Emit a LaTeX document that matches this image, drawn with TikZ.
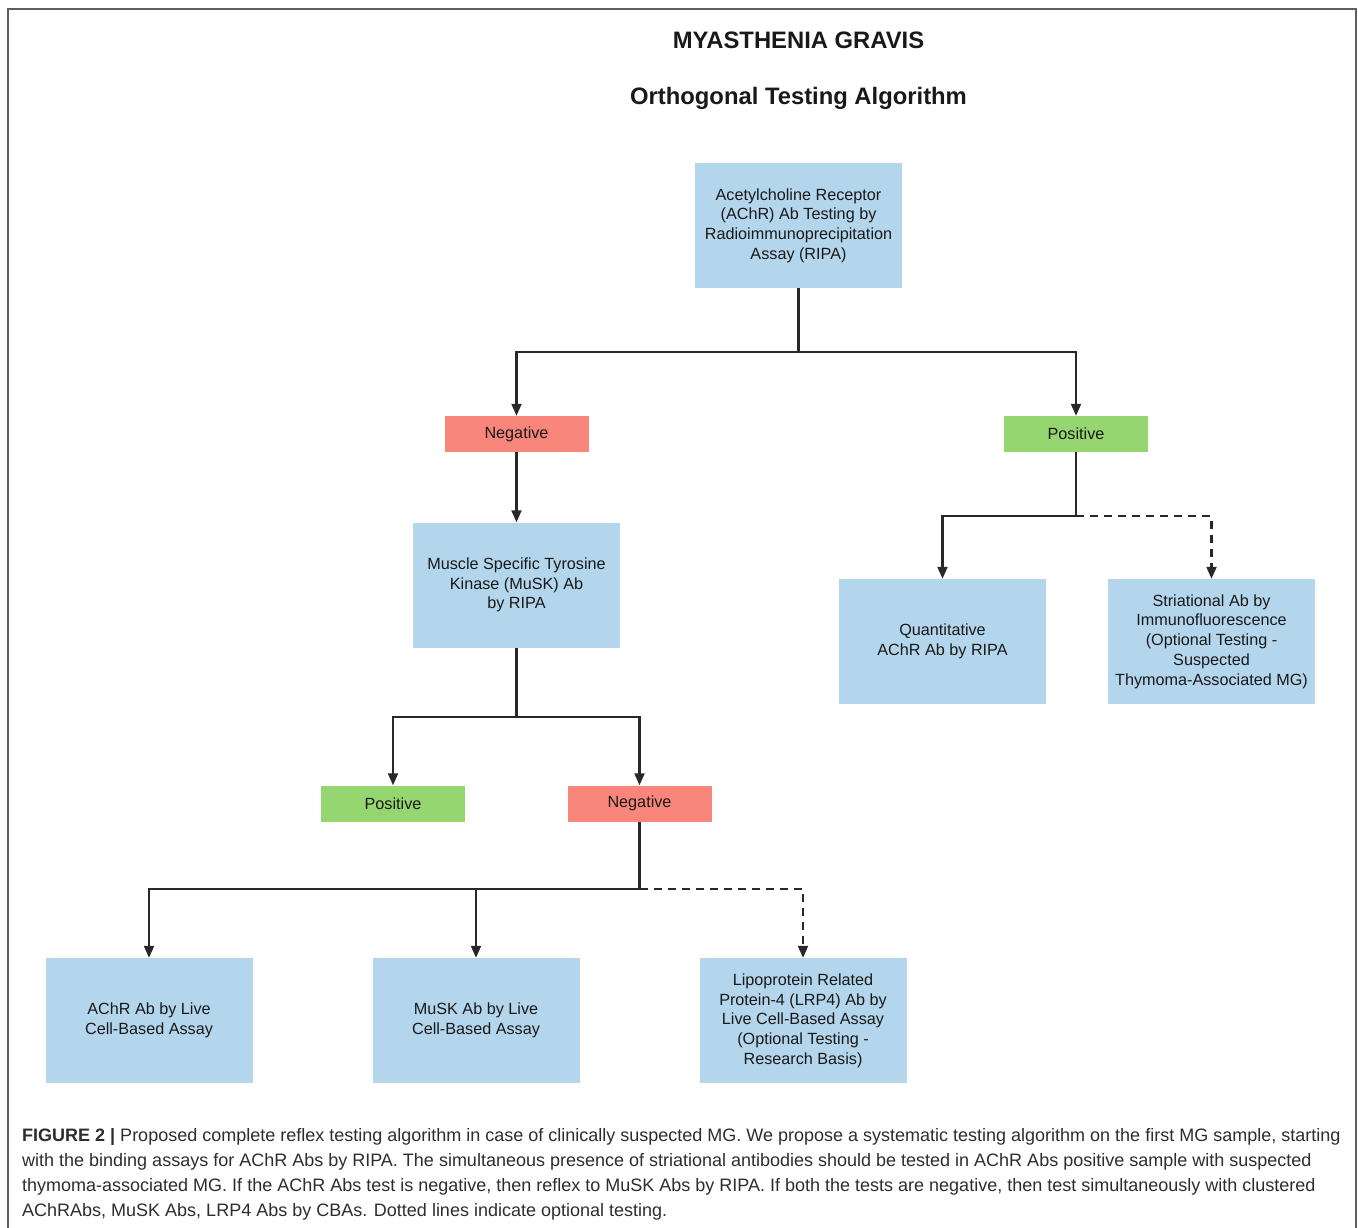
\documentclass[tikz,border=0pt]{standalone}
\usepackage{fontspec}
\setmainfont{Liberation Sans}
\usetikzlibrary{arrows.meta}
\definecolor{boxblue}{RGB}{180,214,237}
\definecolor{negred}{RGB}{249,134,122}
\definecolor{posgreen}{RGB}{150,214,112}
\definecolor{linegray}{RGB}{40,40,40}
\definecolor{textdark}{RGB}{25,25,25}
\definecolor{capgray}{RGB}{45,45,45}
\definecolor{framegray}{RGB}{95,95,95}
\begin{document}
\begin{tikzpicture}[x=1pt,y=-1pt,
 bluebox/.style={fill=boxblue, minimum width=207pt, minimum height=125pt, inner sep=2pt, align=center, font=\fontsize{16.2}{19.7}\selectfont, text=textdark},
 tagbox/.style={minimum width=144pt, minimum height=36pt, inner sep=0pt, font=\fontsize{16.2}{19}\selectfont, text=textdark},
 negbox/.style={tagbox, fill=negred},
 posbox/.style={tagbox, fill=posgreen},
 conn/.style={draw=linegray, line width=2.1pt},
 arr/.style={conn, -{Triangle[length=12pt,width=10pt]}},
 opt/.style={arr, dash pattern=on 8pt off 6pt},
 frameline/.style={draw=framegray, line width=2pt},
 capline/.style={anchor=base west, inner sep=0pt, font=\fontsize{18}{25}\selectfont, text=capgray}]
\useasboundingbox (0,0) rectangle (1358,1228);
\draw[frameline] (8,1240) -- (8,9) -- (1356,9) -- (1356,1240);

\node[font=\fontsize{23.8}{28}\selectfont\bfseries, text=textdark] (t1) at (798.5,40) {MYASTHENIA GRAVIS};
\node[font=\fontsize{23.8}{28}\selectfont\bfseries, text=textdark] (t2) at (798.5,98) {Orthogonal Testing Algorithm};

\node[bluebox] (achr) at (798.5,225.5) {Acetylcholine Receptor\\(AChR) Ab Testing by\\Radioimmunoprecipitation\\Assay (RIPA)};
\node[negbox] (neg1) at (516.5,434) {Negative};
\node[posbox] (pos1) at (1076,434) {Positive};
\node[bluebox] (musk) at (516.5,585) {Muscle Specific Tyrosine\\Kinase (MuSK) Ab\\by RIPA};
\node[bluebox] (quant) at (942.5,641.5) {Quantitative\\AChR Ab by RIPA};
\node[bluebox] (stri) at (1211.5,641.5) {Striational Ab by\\Immunofluorescence\\(Optional Testing -\\Suspected\\Thymoma-Associated MG)};
\node[posbox] (pos2) at (393,803.5) {Positive};
\node[negbox] (neg2) at (639.5,803.5) {Negative};
\node[bluebox] (live1) at (149,1020.5) {AChR Ab by Live\\Cell-Based Assay};
\node[bluebox] (live2) at (476,1020.5) {MuSK Ab by Live\\Cell-Based Assay};
\node[bluebox] (lrp4) at (803,1020.5) {Lipoprotein Related\\Protein-4 (LRP4) Ab by\\Live Cell-Based Assay\\(Optional Testing -\\Research Basis)};

\coordinate (j1) at (798.5,352);
\draw[conn] (achr.south) -- (j1);
\draw[arr] (j1) -| (neg1.north);
\draw[arr] (j1) -| (pos1.north);
\draw[arr] (neg1.south) -- (musk.north);
\coordinate (j2) at (516.5,717);
\draw[conn] (musk.south) -- (j2);
\draw[arr] (j2) -| (pos2.north);
\draw[arr] (j2) -| (neg2.north);
\coordinate (j3) at (639.5,889);
\draw[conn] (neg2.south) -- (j3);
\draw[arr] (j3) -| (live1.north);
\draw[arr] (j3) -| (live2.north);
\draw[opt] (j3) -| (lrp4.north);
\coordinate (j4) at (1076,516);
\draw[conn] (pos1.south) -- (j4);
\draw[arr] (j4) -| (quant.north);
\draw[opt] (j4) -| (stri.north);

\node[capline] (cap1) at (22,1141) {\textbf{FIGURE 2 |} Proposed complete reflex testing algorithm in case of clinically suspected MG. We propose a systematic testing algorithm on the first MG sample, starting};
\node[capline] (cap2) at (22,1166) {with the binding assays for AChR Abs by RIPA. The simultaneous presence of striational antibodies should be tested in AChR Abs positive sample with suspected};
\node[capline] (cap3) at (22,1191) {thymoma-associated MG. If the AChR Abs test is negative, then reflex to MuSK Abs by RIPA. If both the tests are negative, then test simultaneously with clustered};
\node[capline] (cap4) at (22,1216) {AChRAbs, MuSK Abs, LRP4 Abs by CBAs. Dotted lines indicate optional testing.};
\end{tikzpicture}
\end{document}
